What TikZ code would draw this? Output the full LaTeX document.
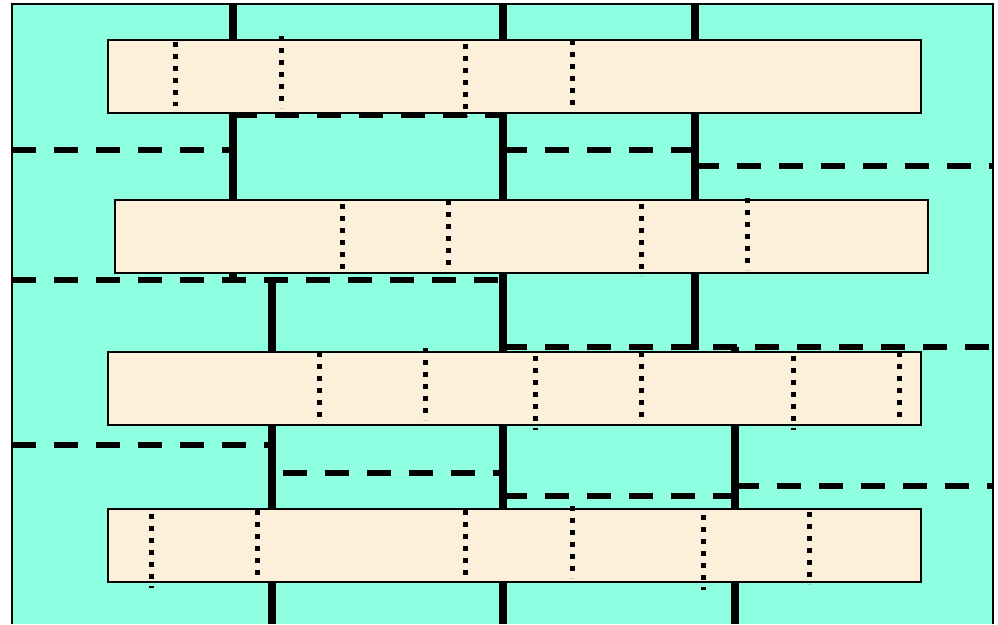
\documentclass[tikz,border=0pt]{standalone}
\usetikzlibrary{positioning}
\definecolor{aqua}{RGB}{142,255,224}
\definecolor{cream}{RGB}{253,240,218}
\begin{document}
\begin{tikzpicture}[
  x=1pt,y=-1pt,
  wall/.style={draw=black, line width=7.5pt},
  seam/.style={draw=black, line width=5.5pt, dash pattern=on 24pt off 18pt},
  joint/.style={draw=black, line width=5pt, dash pattern=on 5pt off 7pt},
  strip/.style={draw=black, line width=1.5pt, fill=cream, anchor=north west, minimum width=813pt, minimum height=73pt, inner sep=0pt, outer sep=0pt}
]
  \useasboundingbox (0,0) rectangle (998,624);
  \fill[aqua] (12,4) rectangle (993,624);
  \draw[line width=2pt] (12,624) -- (12,4) -- (993,4) -- (993,624);

  % solid walls
  \draw[wall] (233,4) -- (233,283);
  \draw[wall] (503,4) -- (503,624);
  \draw[wall] (695,4) -- (695,350);
  \draw[wall] (272,280) -- (272,624);
  \draw[wall] (735,347) -- (735,624);

  % dashed seams
  \draw[seam] (12,150) -- (233,150);
  \draw[seam] (503,150) -- (695,150);
  \draw[seam] (695,166) -- (993,166);
  \draw[seam] (233,115) -- (503,115);
  \draw[seam] (12,280) -- (503,280);
  \draw[seam] (503,347) -- (993,347);
  \draw[seam] (12,445) -- (272,445);
  \draw[seam] (283,473) -- (503,473);
  \draw[seam] (503,496) -- (735,496);
  \draw[seam] (735,486) -- (993,486);

  % strips
  \node[strip] (s1) at (108,40) {};
  \node[strip] (s2) at (115,200) {};
  \node[strip] (s3) at (108,352) {};
  \node[strip] (s4) at (108,509) {};

  % dotted joints
  \foreach \x/\a/\b in {175/42/106, 281/36/108, 465/44/117, 572/40/106,
                        342/204/272, 448/200/268, 641/204/276, 747/198/270,
                        319/352/424, 425/348/420, 535/356/430, 641/352/424, 793/356/430, 899/352/424,
                        151/514/588, 257/510/576, 465/510/576, 572/506/578, 703/515/590, 809/512/584}
    \draw[joint] (\x,\a) -- (\x,\b);
\end{tikzpicture}
\end{document}
